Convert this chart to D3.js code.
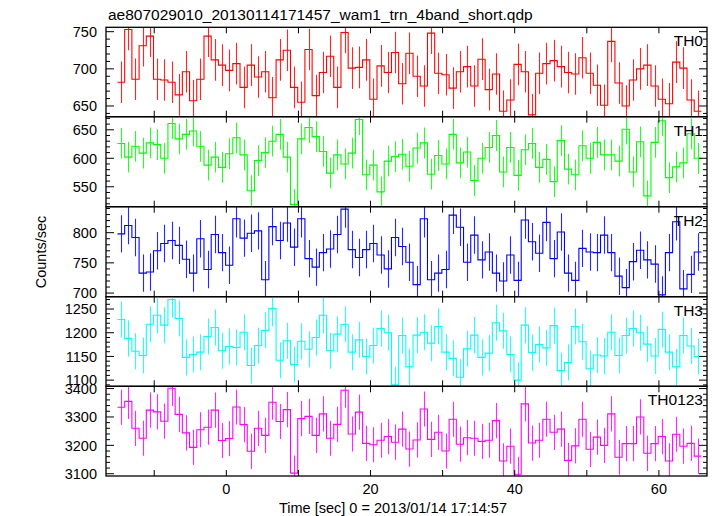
<!DOCTYPE html>
<html><head><meta charset="utf-8">
<script src="https://cdn.jsdelivr.net/npm/d3@7"></script>
<style>
body{margin:0;background:#fff}
svg{display:block}
text{font-family:"Liberation Sans",Arial,Helvetica,sans-serif;fill:#000}
</style>
</head><body>
<svg id="chart" width="717" height="516"></svg>
<script>
// ---------------- data ----------------
const chartTitle = "ae807029010_20130114171457_wam1_trn_4band_short.qdp";
const xTitle = "Time [sec] 0 = 2013/01/14 17:14:57";
const yTitle = "Counts/sec";
const panelNames = ["TH0", "TH1", "TH2", "TH3", "TH0123"];
const panelColors = ["#ff0000", "#00ff00", "#0000ff", "#00ffff", "#ff00ff"];

// bin centres (s), 1 s bins
const timeBins = [-14.6,-13.6,-12.6,-11.6,-10.6,-9.6,-8.6,-7.6,-6.6,-5.6,-4.6,-3.6,-2.6,-1.6,-0.6,
  0.4,1.4,2.4,3.4,4.4,5.4,6.4,7.4,8.4,9.4,10.4,11.4,12.4,13.4,14.4,15.4,16.4,17.4,18.4,19.4,
  20.4,21.4,22.4,23.4,24.4,25.4,26.4,27.4,28.4,29.4,30.4,31.4,32.4,33.4,34.4,35.4,36.4,37.4,38.4,39.4,
  40.4,41.4,42.4,43.4,44.4,45.4,46.4,47.4,48.4,49.4,50.4,51.4,52.4,53.4,54.4,55.4,56.4,57.4,58.4,59.4,
  60.4,61.4,62.4,63.4,64.4,65.4];
const binWidth = 1;

const th0 = [682,753,686,731,744,686,685,682,665,696,657,686,744,712,705,698,707,675,705,689,
  696,661,712,725,675,655,726,664,695,717,675,749,701,702,712,659,704,695,722,680,
  721,690,677,748,694,692,674,696,703,677,713,672,693,643,658,706,696,638,694,707,
  711,703,695,693,715,694,678,651,737,681,650,685,700,705,677,659,653,709,701,658,643];
const th1 = [626,602,621,609,627,624,600,661,634,642,648,621,588,602,584,608,636,606,543,596,
  610,630,642,602,519,634,654,638,612,574,606,590,609,668,571,588,541,595,603,607,
  586,618,627,572,605,590,642,592,611,561,600,619,640,576,619,570,615,626,584,598,
  559,631,581,571,622,600,628,606,606,595,651,576,629,534,628,666,566,585,592,643,600];
const th2 = [798,812,792,733,735,770,782,787,779,756,733,790,739,797,767,746,823,791,799,803,
  722,810,787,816,776,823,757,743,767,773,797,839,772,759,772,782,763,740,792,777,
  751,714,823,722,733,739,829,809,751,796,755,768,733,720,763,721,821,785,766,817,
  757,801,733,721,774,768,767,796,767,728,709,752,771,755,748,697,767,818,707,731,768];
const th3 = [1228,1188,1161,1152,1218,1237,1216,1270,1230,1148,1154,1159,1192,1211,1162,1171,1169,1201,1131,1173,
  1205,1251,1142,1183,1133,1182,1165,1190,1237,1162,1197,1218,1159,1185,1150,1173,1209,1200,1090,1194,
  1128,1195,1201,1178,1213,1159,1146,1106,1166,1195,1148,1157,1221,1204,1154,1100,1216,1158,1175,1168,
  1215,1120,1137,1213,1181,1124,1153,1151,1201,1152,1194,1209,1200,1176,1151,1207,1159,1128,1194,1172,1150];
const th0123 = [3334,3355,3260,3225,3324,3318,3285,3401,3309,3244,3193,3255,3264,3324,3217,3224,3335,3273,3179,3260,
  3235,3352,3284,3326,3102,3294,3302,3235,3311,3225,3274,3394,3240,3317,3207,3202,3218,3231,3211,3257,
  3187,3219,3328,3221,3246,3180,3292,3204,3227,3225,3214,3218,3287,3145,3197,3098,3346,3208,3218,3292,
  3246,3257,3147,3198,3292,3186,3229,3200,3311,3158,3206,3206,3300,3172,3206,3231,3145,3239,3197,3207,3162];
const seriesValues = [th0, th1, th2, th3, th0123];
const seriesErrors = [28, 27, 31, 38, 62];   // typical 1-sigma error per band

const yDomains = [[635.6, 755.9], [515, 673], [694, 843], [1087, 1276], [3092, 3408]];
const yMajorTicks = [[650, 700, 750], [550, 600, 650], [700, 750, 800], [1100, 1150, 1200, 1250], [3100, 3200, 3300, 3400]];
const yMinorStep = [10, 10, 10, 10, 20];
const xDomain = [-16.69, 66.67];
const xMajorTicks = [0, 20, 40, 60];
const xMinorTicks = [-10, 10, 30, 50];

// ---------------- layout ----------------
const svg = d3.select("#chart");
const left = 106, right = 707;
const panelTops = [27.3, 116.7, 206.7, 296.7, 386.3];
const panelBottom = 476;

const x = d3.scaleLinear().domain(xDomain).range([left, right]);

svg.append("text").attr("x", 108).attr("y", 20).attr("font-size", 15.5).text(chartTitle);

panelNames.forEach((name, p) => {
  const top = panelTops[p];
  const bot = p < 4 ? panelTops[p + 1] : panelBottom;
  const y = d3.scaleLinear().domain(yDomains[p]).range([bot, top]);
  const g = svg.append("g");
  const clipId = "clip" + p;
  svg.append("clipPath").attr("id", clipId).append("rect")
    .attr("x", left).attr("y", top).attr("width", right - left).attr("height", bot - top);

  const data = timeBins.map((t, i) => ({t, v: seriesValues[p][i], e: seriesErrors[p]}));
  const col = panelColors[p];
  const dg = g.append("g").attr("clip-path", `url(#${clipId})`);

  // error bars
  dg.selectAll("line.err").data(data).join("line")
    .attr("x1", d => Math.round(x(d.t)) + 0.5).attr("x2", d => Math.round(x(d.t)) + 0.5)
    .attr("y1", d => y(d.v - d.e)).attr("y2", d => y(d.v + d.e))
    .attr("stroke", col).attr("stroke-width", 1.1).attr("stroke-opacity", 0.85);

  // step histogram
  const pts = data.map(d => [d.t - binWidth / 2, d.v]);
  pts.push([data[data.length - 1].t + binWidth / 2, data[data.length - 1].v]);
  const line = d3.line().x(d => x(d[0])).y(d => y(d[1])).curve(d3.curveStepAfter);
  dg.append("path").attr("d", line(pts)).attr("fill", "none")
    .attr("stroke", col).attr("stroke-width", 1.1);

  // y ticks
  const [y0, y1] = yDomains[p];
  const minor = d3.range(Math.ceil(y0 / yMinorStep[p]) * yMinorStep[p], y1, yMinorStep[p]);
  const tk = g.append("g").attr("stroke", "#000").attr("stroke-width", 1);
  minor.forEach(v => {
    const isMaj = yMajorTicks[p].includes(v);
    const len = isMaj ? 8 : 4;
    tk.append("line").attr("x1", left).attr("x2", left + len).attr("y1", y(v)).attr("y2", y(v));
    tk.append("line").attr("x1", right).attr("x2", right - len).attr("y1", y(v)).attr("y2", y(v));
  });
  yMajorTicks[p].forEach(v => {
    g.append("text").attr("x", 97).attr("y", y(v)).attr("dy", "0.36em")
      .attr("text-anchor", "end").attr("font-size", 14.5).text(v);
  });
  // x ticks
  xMajorTicks.concat(xMinorTicks).forEach(t => {
    tk.append("line").attr("x1", x(t)).attr("x2", x(t)).attr("y1", top).attr("y2", top + 6);
    tk.append("line").attr("x1", x(t)).attr("x2", x(t)).attr("y1", bot).attr("y2", bot - 6);
  });

  // frame
  g.append("rect").attr("x", left).attr("y", top).attr("width", right - left).attr("height", bot - top)
    .attr("fill", "none").attr("stroke", "#000").attr("stroke-width", 1.3);

  g.append("text").attr("x", 703).attr("y", top + 19).attr("text-anchor", "end")
    .attr("font-size", 15.5).text(name);
});

// x labels
xMajorTicks.forEach(t => {
  svg.append("text").attr("x", x(t)).attr("y", 494).attr("text-anchor", "middle")
    .attr("font-size", 14.5).text(t);
});
svg.append("text").attr("x", 393).attr("y", 513).attr("text-anchor", "middle")
  .attr("font-size", 14.5).text(xTitle);
svg.append("text").attr("transform", "translate(46,252) rotate(-90)").attr("text-anchor", "middle")
  .attr("font-size", 14.5).text(yTitle);
</script>
</body></html>
